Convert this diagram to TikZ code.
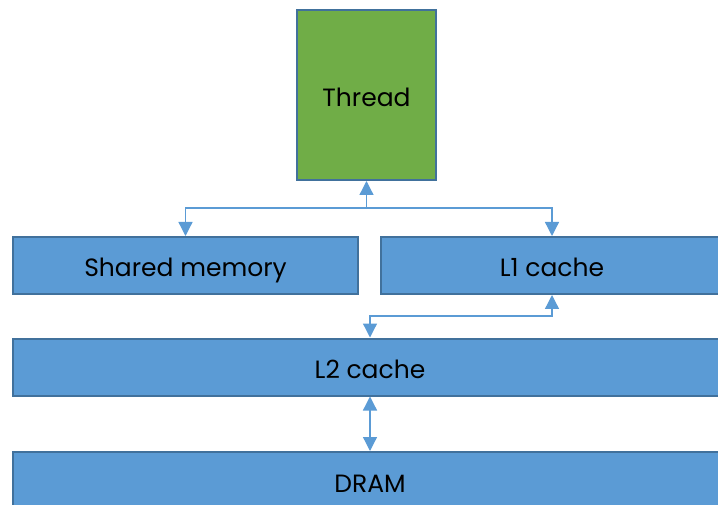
\documentclass[tikz,border=0pt]{standalone}
\usepackage{fontspec}
\setmainfont{Poppins}
\usepackage{tikz}
\usetikzlibrary{arrows.meta}
\definecolor{boxfill}{HTML}{5B9BD5}
\definecolor{boxedge}{HTML}{41719C}
\definecolor{threadfill}{HTML}{70AD47}
\definecolor{linkblue}{HTML}{5B9BD5}
\tikzset{
every node/.style={rectangle, draw=boxedge, line width=2pt, inner sep=0pt,
  text height=23pt, text depth=0pt, font=\fontsize{25}{30}\selectfont},
box/.style={fill=boxfill, minimum height=57pt},
link/.style={draw=linkblue, line width=1.3pt},
tip/.tip={Triangle[width=14pt,length=14pt]}
}

\begin{document}
\begin{tikzpicture}[x=1pt,y=-1pt]
\useasboundingbox (0,0) rectangle (718,505);

\node[fill=threadfill, minimum width=139pt, minimum height=170pt] (thread) at (366.5,95) {Thread};
\node[box, minimum width=345pt] (shared) at (185.5,265.5) {Shared memory};
\node[box, minimum width=342pt] (l1) at (552,265.5) {L1 cache};
\node[box, minimum width=714pt] (l2) at (370,367) {L2 cache};
\node[box, minimum width=714pt] (dram) at (370,480.5) {DRAM};

\coordinate (fork) at (366.5,208);
\coordinate (bend) at (460,316);

\draw[link, -tip] (fork) -- (thread.south);
\draw[link, tip-tip] (shared.north) |- (fork) -| (l1.north);
\draw[link, tip-tip] (l1.south) |- (bend) -| (l2.north);
\draw[link, tip-tip] (l2.south) -- (dram.north);
\end{tikzpicture}
\end{document}
